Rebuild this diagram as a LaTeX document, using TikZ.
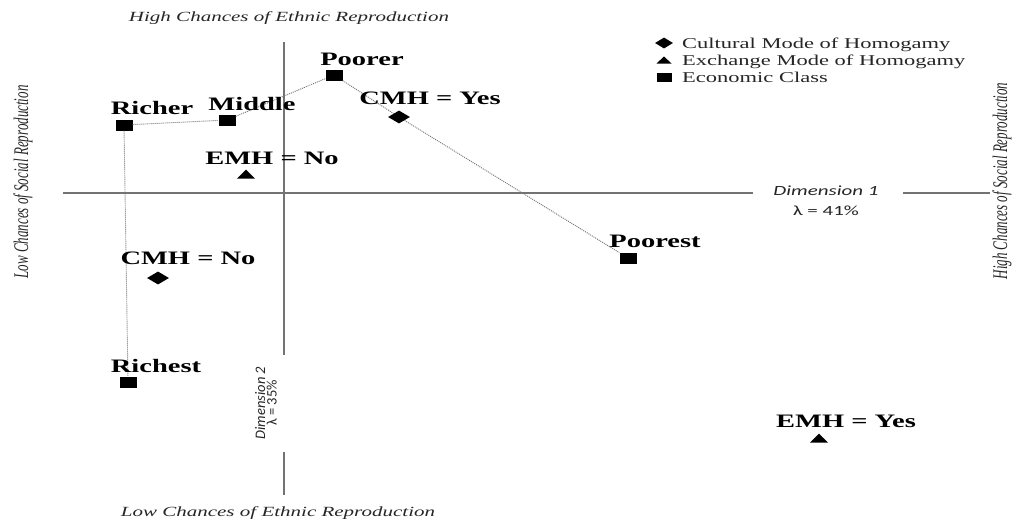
\documentclass[tikz,border=0pt]{standalone}
\usepackage{fontspec}
\setmainfont{Liberation Serif}
\newfontfamily\dimfont{Carlito}
\usetikzlibrary{shapes.geometric}
\newcommand{\hstr}[1]{\scalebox{1.5}[1]{#1}}
\newcommand{\vstr}[1]{\scalebox{1}[1.6]{#1}}
\newcommand{\mytri}[3]{\fill ([shift={(-#2,#3)}]#1) -- ([shift={(#2,#3)}]#1) -- ([shift={(0,-#3)}]#1) -- cycle;}
\begin{document}
\begin{tikzpicture}[x=1pt,y=-1pt,
  lbl/.style={anchor=base, inner sep=0, font=\fontsize{19}{22}\selectfont\bfseries},
  sq/.style={rectangle, fill=black, inner sep=0, minimum width=17pt, minimum height=11pt},
  dia/.style={diamond, fill=black, inner sep=0, minimum width=22pt, minimum height=13pt},
  axisline/.style={draw=black!55, line width=1.6pt},
  dotline/.style={draw=black!55, line width=0.9pt, dash pattern=on 1pt off 1pt},
  ttl/.style={inner sep=0, text=black!85, font=\fontsize{14}{16}\selectfont\itshape},
  side/.style={inner sep=0, rotate=90, text=black!85, font=\fontsize{13}{15}\selectfont\itshape},
  legtxt/.style={anchor=base west, inner sep=0, text=black!85, font=\fontsize{15}{17}\selectfont},
  dimlbl/.style={inner sep=0, align=center, text=black!85}
]
\useasboundingbox (0,0) rectangle (1013,523);
\fill[white] (0,0) rectangle (1013,523);

% titles
\node[ttl, anchor=base] (ttop) at (289,21) {\hstr{High Chances of Ethnic Reproduction}};
\node[ttl, anchor=base] (tbot) at (278,516) {\hstr{Low Chances of Ethnic Reproduction}};
\node[side] (tleft) at (23,182) {\vstr{Low Chances of Social Reproduction}};
\node[side] (tright) at (1002,181) {\vstr{High Chances of Social Reproduction}};

% axes
\coordinate (h1a) at (63,193); \coordinate (h1b) at (753,193);
\coordinate (h2a) at (903,193); \coordinate (h2b) at (990,193);
\coordinate (v1a) at (284,42); \coordinate (v1b) at (284,355);
\coordinate (v2a) at (284,452); \coordinate (v2b) at (284,495);
\draw[axisline] (h1a) -- (h1b);
\draw[axisline] (h2a) -- (h2b);
\draw[axisline] (v1a) -- (v1b);
\draw[axisline] (v2a) -- (v2b);
\node[dimlbl, font=\dimfont\fontsize{14}{20}\selectfont] (dim1) at (826,201)
  {\hstr{\itshape Dimension 1}\\\hstr{λ = 41\%}};
\node[dimlbl, rotate=90, font=\dimfont\fontsize{14.5}{11.5}\selectfont] (dim2) at (266,403)
  {{\itshape Dimension 2}\\λ = 35\%};

% markers
\node[sq] (richer) at (124,125) {};
\node[sq] (middle) at (227,120) {};
\node[sq] (poorer) at (334,75) {};
\node[sq] (poorest) at (628,258) {};
\node[sq] (richest) at (128,382) {};
\node[dia] (cmhy) at (399,117) {};
\node[dia] (cmhn) at (158,278) {};
\coordinate (emhn) at (246,174);
\coordinate (emhy) at (819,438);
\mytri{emhn}{9}{4.5}
\mytri{emhy}{9}{4.5}

% connectors
\draw[dotline] (richer) -- (middle) -- (poorer) -- (cmhy) -- (poorest);
\draw[dotline] (richer) -- (richest);

% labels
\node[lbl] (lpoorer) at (362,65) {\hstr{Poorer}};
\node[lbl] (lmiddle) at (252,110) {\hstr{Middle}};
\node[lbl] (lricher) at (152,114) {\hstr{Richer}};
\node[lbl] (lcmhy) at (430,104.5) {\hstr{CMH = Yes}};
\node[lbl] (lemhn) at (272,164.5) {\hstr{EMH = No}};
\node[lbl] (lcmhn) at (188,264.5) {\hstr{CMH = No}};
\node[lbl] (lrichest) at (156,372) {\hstr{Richest}};
\node[lbl] (lpoorest) at (655,247.5) {\hstr{Poorest}};
\node[lbl] (lemhy) at (846,427.5) {\hstr{EMH = Yes}};

% legend
\node[dia, minimum width=18pt, minimum height=11pt] (kdia) at (664,43) {};
\coordinate (ktri) at (664,60);
\mytri{ktri}{7.5}{3.5}
\node[sq, minimum width=15pt, minimum height=9pt] (ksq) at (664,77) {};
\node[legtxt] (kt1) at (682,48) {\hstr{Cultural Mode of Homogamy}};
\node[legtxt] (kt2) at (682,65) {\hstr{Exchange Mode of Homogamy}};
\node[legtxt] (kt3) at (682,82) {\hstr{Economic Class}};
\end{tikzpicture}
\end{document}
